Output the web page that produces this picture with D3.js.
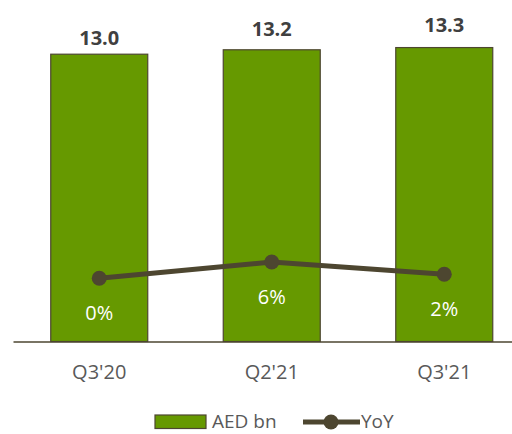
<!DOCTYPE html>
<html>
<head>
<meta charset="utf-8">
<script src="https://cdn.jsdelivr.net/npm/d3@7"></script>
<style>
  body { margin: 0; background: #fff; }
  svg { display: block; font-family: "Open Sans", sans-serif; }
</style>
</head>
<body>
<script>
// chart values
const categories = ["Q3'20", "Q2'21", "Q3'21"];
const aedValues = [13.0, 13.2, 13.3];
const aedLabels = ["13.0", "13.2", "13.3"];
const yoyValues = [0.0, 6.0, 1.5];
const yoyLabels = ["0%", "6%", "2%"];
const legendNames = ["AED bn", "YoY"];

const width = 512, height = 434;
const green = "#669900", olive = "#4d4630";

const svg = d3.select("body").append("svg")
    .attr("width", width)
    .attr("height", height);

const xScale = d3.scaleBand()
    .domain(categories)
    .range([13, 530.5])
    .paddingInner(0.4377)
    .paddingOuter(0.2188);

const yScale = d3.scaleLinear()
    .domain([0, 15])
    .range([341.5, 10]);

const yoyScale = d3.scaleLinear()
    .domain([0, 6])
    .range([278.3, 262]);

const cx = (d) => xScale(d) + xScale.bandwidth() / 2;

// bars
svg.selectAll("rect.bar")
    .data(aedValues)
    .enter()
    .append("rect")
    .attr("class", "bar")
    .attr("x", (d, i) => xScale(categories[i]))
    .attr("y", (d) => yScale(d))
    .attr("width", xScale.bandwidth())
    .attr("height", (d) => yScale(0) - yScale(d))
    .attr("fill", green)
    .attr("stroke", olive)
    .attr("stroke-width", 1.2);

// x axis
const xAxis = d3.axisBottom(xScale).tickSize(0).tickPadding(0);
const gx = svg.append("g")
    .attr("transform", "translate(0," + yScale(0) + ")")
    .call(xAxis);
gx.select(".domain").attr("stroke", olive).attr("stroke-width", 1.6);
gx.selectAll("text")
    .attr("dy", null)
    .attr("y", 37.5)
    .attr("fill", "#595959")
    .attr("font-size", 20)
    .attr("font-family", "Open Sans, sans-serif");

// bar value labels (nudged like the original)
const labelNudge = [9, 14, 16];
svg.selectAll("text.val")
    .data(aedValues)
    .enter()
    .append("text")
    .attr("class", "val")
    .attr("x", (d, i) => cx(categories[i]))
    .attr("y", (d, i) => yScale(d) - labelNudge[i])
    .attr("text-anchor", "middle")
    .attr("font-size", 20)
    .attr("font-weight", "bold")
    .attr("fill", "#404040")
    .text((d, i) => aedLabels[i]);

// yoy line
const line = d3.line()
    .x((d, i) => cx(categories[i]))
    .y((d) => yoyScale(d));

svg.append("path")
    .datum(yoyValues)
    .attr("d", line)
    .attr("fill", "none")
    .attr("stroke", olive)
    .attr("stroke-width", 5);

svg.selectAll("circle.pt")
    .data(yoyValues)
    .enter()
    .append("circle")
    .attr("class", "pt")
    .attr("cx", (d, i) => cx(categories[i]))
    .attr("cy", (d) => yoyScale(d))
    .attr("r", 7.5)
    .attr("fill", olive);

svg.selectAll("text.yoy")
    .data(yoyValues)
    .enter()
    .append("text")
    .attr("class", "yoy")
    .attr("x", (d, i) => cx(categories[i]))
    .attr("y", (d) => yoyScale(d) + 42)
    .attr("text-anchor", "middle")
    .attr("font-size", 20)
    .attr("fill", "#ffffff")
    .text((d, i) => yoyLabels[i]);

// legend
const legend = svg.append("g");
legend.append("rect")
    .attr("x", 155).attr("y", 415)
    .attr("width", 51).attr("height", 13.5)
    .attr("fill", green)
    .attr("stroke", olive)
    .attr("stroke-width", 1.2);
legend.append("text")
    .attr("x", 212).attr("y", 428)
    .attr("font-size", 19)
    .attr("fill", "#595959")
    .text(legendNames[0]);
legend.append("line")
    .attr("x1", 303).attr("x2", 360)
    .attr("y1", 422).attr("y2", 422)
    .attr("stroke", olive)
    .attr("stroke-width", 5);
legend.append("circle")
    .attr("cx", 331).attr("cy", 422)
    .attr("r", 7.5)
    .attr("fill", olive);
legend.append("text")
    .attr("x", 361).attr("y", 428)
    .attr("font-size", 19)
    .attr("fill", "#595959")
    .text(legendNames[1]);
</script>
</body>
</html>
